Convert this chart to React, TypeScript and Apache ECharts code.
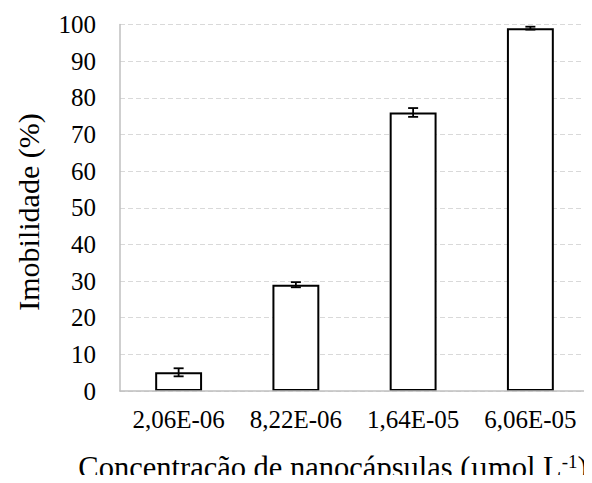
import React, { useEffect, useRef } from "react";
import * as echarts from "echarts";

const categories = ["2,06E-06", "8,22E-06", "1,64E-05", "6,06E-05"];
const values = [5.1, 29.0, 76.0, 99.0];
const errors = [1.1, 0.7, 1.2, 0.4];
const yTicks = { min: 0, max: 100, interval: 10 };

const FONT = "Liberation Serif";

export default function App() {
  const ref = useRef<HTMLDivElement>(null);
  useEffect(() => {
    if (!ref.current) return;
    const chart = echarts.init(ref.current, undefined, { renderer: "svg" });
    const errData = values.map((v, i) => [i, v - errors[i], v + errors[i]]);
    chart.setOption({
      animation: false,
      backgroundColor: "#ffffff",
      textStyle: { fontFamily: FONT },
      grid: { left: 120, right: 3, top: 24.5, bottom: 92, containLabel: false },
      xAxis: {
        type: "category",
        data: categories,
        boundaryGap: true,
        axisLine: { show: true, lineStyle: { color: "#bfbfbf", width: 1.5 } },
        axisTick: { show: false },
        axisLabel: { color: "#000", fontFamily: FONT, fontSize: 25, margin: 16, interval: 0 },
        splitLine: { show: false },
        z: 5,
      },
      yAxis: {
        type: "value",
        min: yTicks.min,
        max: yTicks.max,
        interval: yTicks.interval,
        axisLine: { show: true, lineStyle: { color: "#bfbfbf", width: 1.5 } },
        axisTick: { show: false },
        axisLabel: { color: "#000", fontFamily: FONT, fontSize: 25, margin: 24 },
        splitLine: { show: true, lineStyle: { color: "#d9d9d9", type: [5, 3], width: 1 } },
      },
      series: [
        {
          type: "bar",
          data: values,
          barWidth: "40%",
          itemStyle: { color: "#ffffff", borderColor: "#000000", borderWidth: 2 },
          z: 2,
        },
        {
          type: "custom",
          data: errData,
          z: 10,
          renderItem: (params: any, api: any) => {
            const x = api.value(0);
            const lo = api.coord([x, api.value(1)]);
            const hi = api.coord([x, api.value(2)]);
            const hw = 5;
            const style = { stroke: "#000", lineWidth: 1.8 };
            return {
              type: "group",
              children: [
                { type: "line", shape: { x1: lo[0], y1: lo[1], x2: hi[0], y2: hi[1] }, style },
                { type: "line", shape: { x1: lo[0] - hw, y1: lo[1], x2: lo[0] + hw, y2: lo[1] }, style },
                { type: "line", shape: { x1: hi[0] - hw, y1: hi[1], x2: hi[0] + hw, y2: hi[1] }, style },
              ],
            };
          },
        },
      ],
      graphic: [
        {
          type: "text",
          x: 28,
          y: 212,
          rotation: Math.PI / 2,
          style: {
            text: "Imobilidade (%)",
            fontFamily: FONT,
            fontSize: 30,
            fill: "#000",
            textAlign: "center",
            textVerticalAlign: "middle",
          },
        },
        {
          type: "text",
          x: 333,
          y: 467.5,
          style: {
            text: "{a|Concentração de nanocápsulas (µmol L}{s|-1}{a|)}",
            textAlign: "center",
            textVerticalAlign: "middle",
            rich: {
              a: { fontFamily: FONT, fontSize: 30.5, fill: "#000", color: "#000" },
              s: { fontFamily: FONT, fontSize: 19, fill: "#000", color: "#000", verticalAlign: "top", padding: [0, 0, 12, 0] },
            },
          },
        },
      ],
    });
    return () => chart.dispose();
  }, []);
  return <div ref={ref} style={{ width: 592, height: 483, margin: -8 }} />;
}
